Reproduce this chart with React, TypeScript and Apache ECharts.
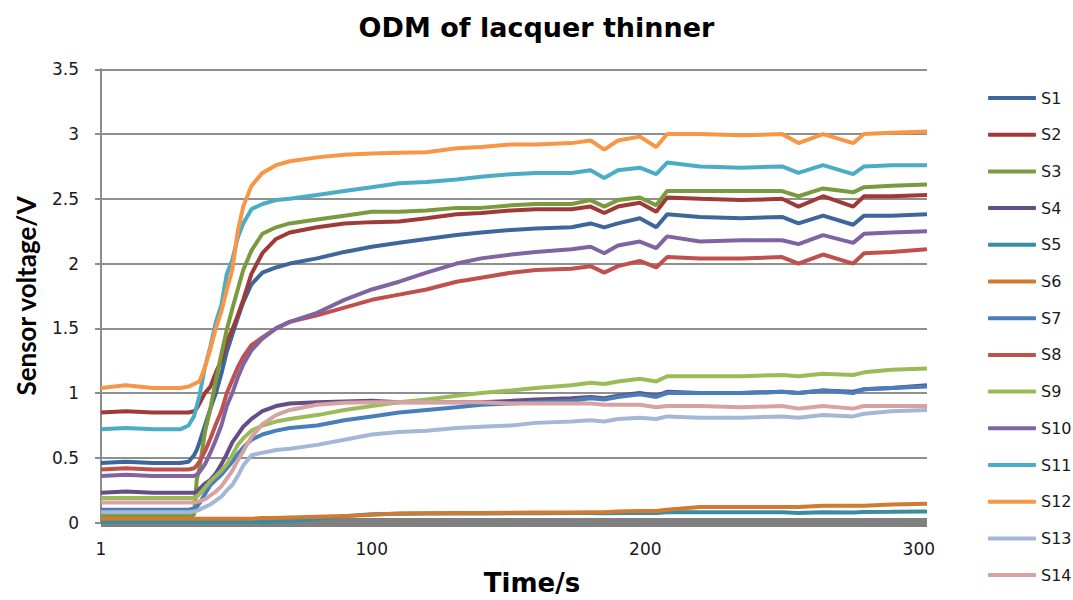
import React, { useEffect, useRef } from "react";
import * as echarts from "echarts";

// Time samples (s)
const T = [1, 10, 20, 30, 33, 35, 36, 37, 39, 41, 43, 45, 47, 49, 51, 53, 56, 60, 65, 70, 80, 90, 100, 110, 120, 131, 140, 151, 160, 173, 180, 185, 190, 198, 204, 208, 220, 235, 250, 256, 265, 276, 280, 290, 303];

const S1 = [0.46,0.47,0.46,0.46, 0.47,0.52,0.56,0.62, 0.75,0.88,1.0,1.15,1.32,1.45,1.58,1.7, 1.84,1.93,1.97,2.0, 2.04,2.09,2.13,2.16,2.19, 2.22,2.24,2.26,2.27,2.28, 2.31,2.28,2.31,2.35,2.28, 2.38,2.36,2.35,2.36,2.31, 2.37,2.30,2.37,2.37,2.38];
const S2 = [0.85,0.86,0.85,0.85, 0.85,0.86,0.88,0.92, 1.0,1.05,1.16,1.25,1.4,1.49,1.6,1.72, 1.92,2.08,2.19,2.24, 2.28,2.31,2.32,2.325,2.35, 2.38,2.39,2.41,2.42,2.42, 2.44,2.39,2.44,2.47,2.40, 2.51,2.50,2.49,2.50,2.44, 2.52,2.44,2.52,2.52,2.53];
const S3 = [0.05,0.05,0.05,0.05, 0.05,0.06,0.33,0.42, 0.7,0.88,1.1,1.3,1.49,1.65,1.8,1.95, 2.1,2.23,2.28,2.31, 2.34,2.37,2.40,2.40,2.41, 2.43,2.43,2.45,2.46,2.46, 2.49,2.44,2.49,2.51,2.45, 2.56,2.56,2.56,2.56,2.52, 2.58,2.55,2.59,2.60,2.61];
const S4 = [0.23,0.24,0.23,0.23, 0.23,0.23,0.24,0.26, 0.3,0.33,0.38,0.45,0.53,0.62,0.68,0.74, 0.8,0.86,0.9,0.92, 0.93,0.935,0.94,0.93,0.93, 0.93,0.93,0.94,0.95,0.96, 0.97,0.96,0.98,1.0,0.98, 1.01,1.0,1.0,1.01,1.0, 1.02,1.01,1.03,1.04,1.06];
const S5 = [0.005,0.005,0.005,0.005, 0.005,0.005,0.005,0.005, 0.005,0.005,0.005,0.005,0.005,0.005,0.005,0.005, 0.005,0.005,0.008,0.01, 0.03,0.05,0.065,0.068,0.07, 0.07,0.07,0.072,0.073,0.074, 0.075,0.073,0.075,0.075,0.074, 0.08,0.08,0.08,0.08,0.075, 0.08,0.078,0.082,0.083,0.085];
const S6 = [0.03,0.03,0.03,0.03, 0.03,0.03,0.03,0.03, 0.03,0.03,0.03,0.03,0.03,0.03,0.03,0.03, 0.03,0.035,0.035,0.04, 0.045,0.05,0.06,0.07,0.072, 0.074,0.075,0.076,0.078,0.078, 0.08,0.08,0.085,0.09,0.09, 0.1,0.12,0.12,0.12,0.12, 0.13,0.13,0.13,0.14,0.145];
const S7 = [0.1,0.1,0.1,0.1, 0.1,0.11,0.12,0.15, 0.22,0.29,0.33,0.37,0.42,0.47,0.53,0.58, 0.64,0.68,0.71,0.73, 0.75,0.79,0.82,0.85,0.87, 0.89,0.91,0.92,0.93,0.94, 0.96,0.95,0.97,0.99,0.97, 1.0,1.0,1.0,1.01,1.0, 1.02,1.0,1.03,1.04,1.05];
const S8 = [0.41,0.42,0.41,0.41, 0.41,0.42,0.44,0.47, 0.55,0.65,0.76,0.86,1.0,1.1,1.2,1.28, 1.37,1.43,1.5,1.55, 1.6,1.66,1.72,1.76,1.80, 1.86,1.89,1.93,1.95,1.96, 1.98,1.93,1.98,2.02,1.97, 2.05,2.04,2.04,2.05,2.0, 2.07,2.0,2.08,2.09,2.11];
const S9 = [0.19,0.19,0.19,0.19, 0.19,0.19,0.2,0.22, 0.27,0.32,0.36,0.4,0.45,0.52,0.6,0.65, 0.71,0.75,0.78,0.8, 0.83,0.87,0.9,0.93,0.95, 0.98,1.0,1.02,1.04,1.06, 1.08,1.07,1.09,1.11,1.09, 1.13,1.13,1.13,1.14,1.13, 1.15,1.14,1.16,1.18,1.19];
const S10 = [0.36,0.37,0.36,0.36, 0.36,0.36,0.37,0.39, 0.45,0.54,0.64,0.75,0.9,1.0,1.12,1.22, 1.33,1.42,1.5,1.55, 1.62,1.72,1.8,1.86,1.93, 2.0,2.04,2.07,2.09,2.11, 2.13,2.08,2.14,2.17,2.12, 2.21,2.17,2.18,2.18,2.15, 2.22,2.16,2.23,2.24,2.25];
const S11 = [0.72,0.73,0.72,0.72, 0.75,0.82,0.9,0.98, 1.2,1.36,1.55,1.68,1.92,2.03,2.2,2.31, 2.42,2.46,2.49,2.5, 2.53,2.56,2.59,2.62,2.63, 2.65,2.67,2.69,2.70,2.70, 2.72,2.66,2.72,2.74,2.69, 2.78,2.75,2.74,2.75,2.70, 2.76,2.69,2.75,2.76,2.76];
const S12 = [1.04,1.06,1.04,1.04, 1.05,1.07,1.08,1.09, 1.2,1.34,1.5,1.63,1.8,1.95,2.25,2.44, 2.6,2.7,2.76,2.79, 2.82,2.84,2.85,2.855,2.86, 2.89,2.90,2.92,2.92,2.93, 2.95,2.88,2.95,2.98,2.90, 3.0,3.0,2.99,3.0,2.93, 3.0,2.93,3.0,3.01,3.02];
const S13 = [0.08,0.08,0.08,0.08, 0.08,0.085,0.09,0.1, 0.12,0.14,0.17,0.2,0.25,0.29,0.36,0.44, 0.52,0.54,0.56,0.57, 0.6,0.64,0.68,0.7,0.71, 0.73,0.74,0.75,0.77,0.78, 0.79,0.78,0.8,0.81,0.8, 0.82,0.81,0.81,0.82,0.81, 0.83,0.82,0.84,0.86,0.87];
const S14 = [0.155,0.155,0.155,0.155, 0.155,0.155,0.16,0.165, 0.18,0.21,0.24,0.28,0.34,0.4,0.48,0.55, 0.66,0.76,0.83,0.87, 0.91,0.925,0.93,0.93,0.93, 0.93,0.93,0.92,0.92,0.92, 0.92,0.91,0.91,0.91,0.89, 0.9,0.9,0.89,0.9,0.88, 0.9,0.88,0.9,0.9,0.9];

const SERIES_NAMES = ["S1","S2","S3","S4","S5","S6","S7","S8","S9","S10","S11","S12","S13","S14"];
const SERIES_VALUES = [S1,S2,S3,S4,S5,S6,S7,S8,S9,S10,S11,S12,S13,S14];
const COLORS = ["#3D679A","#9E3B38","#7A9A3E","#654E85","#3A8DA0","#D07A32","#4A7EBB","#C0504D","#9BBB59","#8064A2","#4BACC6","#F79646","#A5B7D6","#D6A3A2"];
const X_LABELS = [1, 100, 200, 300];
const Y_TICKS = { min: 0, max: 3.5, interval: 0.5 };

const FONT = "DejaVu Sans";

export default function App() {
  const ref = useRef<HTMLDivElement>(null);
  useEffect(() => {
    document.body.style.margin = "0";
    const chart = echarts.init(ref.current!, null, { renderer: "svg" });
    chart.setOption({
      animation: false,
      backgroundColor: "#ffffff",
      title: {
        text: "ODM of lacquer thinner",
        left: "center",
        top: 9,
        textStyle: { fontFamily: FONT, fontSize: 27, fontWeight: "bold", color: "#000000" },
      },
      legend: {
        orient: "vertical",
        left: 983,
        top: 85,
        icon: "roundRect",
        itemWidth: 48,
        itemHeight: 4,
        itemGap: 20.7,
        textStyle: { fontFamily: FONT, fontSize: 16, color: "#1a1a1a", lineHeight: 16 },
        data: SERIES_NAMES,
      },
      grid: { left: 101, top: 69.3, right: 146, bottom: 77.4 },
      xAxis: {
        type: "value",
        min: 1,
        max: 303,
        offset: 4,
        axisLine: { show: true, lineStyle: { color: "#808080", width: 9, cap: "butt" } },
        axisTick: { show: false },
        splitLine: { show: false },
        axisLabel: {
          customValues: X_LABELS,
          margin: 14,
          fontFamily: FONT,
          fontSize: 17,
          color: "#1a1a1a",
        },
      },
      yAxis: {
        type: "value",
        min: Y_TICKS.min,
        max: Y_TICKS.max,
        interval: Y_TICKS.interval,
        name: "Sensor voltage/V",
        nameLocation: "middle",
        nameRotate: 90,
        nameGap: 62,
        nameTextStyle: { fontFamily: "Lato", fontSize: 26, fontWeight: "bold", color: "#000000" },
        axisLine: { show: true, lineStyle: { color: "#8c8c8c", width: 2 } },
        axisTick: { show: true, length: 6, lineStyle: { color: "#8c8c8c", width: 2 } },
        splitLine: { show: true, lineStyle: { color: "#8f8f8f", width: 2 } },
        axisLabel: { margin: 22, fontFamily: FONT, fontSize: 17, color: "#1a1a1a" },
      },
      graphic: [
        {
          type: "text",
          x: 532,
          y: 583,
          style: {
            text: "Time/s",
            fontFamily: FONT,
            fontSize: 26,
            fontWeight: "bold",
            fill: "#000000",
            align: "center",
            verticalAlign: "middle",
          },
        },
      ],
      series: SERIES_NAMES.map((name, i) => ({
        name,
        type: "line",
        showSymbol: false,
        symbol: "none",
        color: COLORS[i],
        lineStyle: { width: 4, color: COLORS[i] },
        data: T.map((t, j) => [t, SERIES_VALUES[i][j]]),
      })),
    });
    return () => chart.dispose();
  }, []);
  return <div ref={ref} style={{ width: 1073, height: 600 }} />;
}
